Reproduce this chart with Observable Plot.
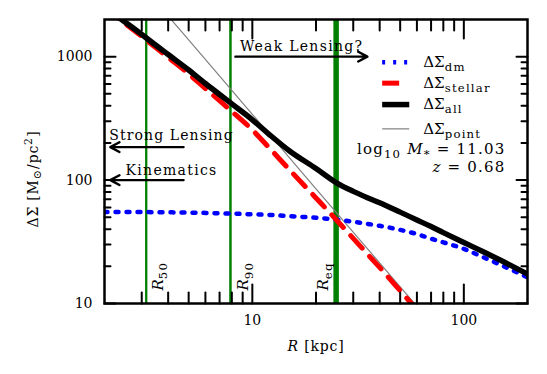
<!DOCTYPE html>
<html><head><meta charset="utf-8">
<script src="https://cdn.jsdelivr.net/npm/d3@7"></script>
<script src="https://cdn.jsdelivr.net/npm/@observablehq/plot@0.6"></script>
<style>body{margin:0;background:#fff} svg{display:block}</style>
</head><body>
<script>
// ---- data ----
const radius = [2, 2.4, 3, 3.2, 4, 5, 6, 7, 8, 10, 12, 15, 20, 25, 30, 35, 40, 50, 60, 70, 80, 100, 125, 150, 200];
const dmValues      = [55, 55, 55, 55, 54.8, 54.5, 54.2, 53.8, 53.5, 52.8, 52.2, 51, 49.5, 47.8, 46, 44.2, 42.6, 39.5, 36.5, 33.5, 31.3, 27.7, 23.5, 20.5, 16.3];
const stellarValues = [2470, 1955, 1460, 1335, 985, 725, 552, 440, 360, 255, 183, 121, 71.6, 47.5, 33.7, 25.2, 19.6, 12.7, 8.9, 6.6, 5.1, 3.3, 2.1, 1.5, 0.84];
const allValues     = [2525, 2010, 1515, 1390, 1040, 780, 606, 494, 414, 308, 235, 172, 124, 95, 81, 72, 65.5, 55, 47.5, 42, 37.5, 31.2, 26, 22.3, 17.3];
const pointRadius = [3, 5, 10, 20, 40, 60, 80];
const pointValues = [3790, 1365, 341, 85, 21.3, 9.5, 5.3];

const radiusNames  = ["$R$_{50}", "$R$_{90}", "$R$_{eq}"];
const radiusValues = [3.15, 7.88, 24.9];

const arrowLabels = ["Weak Lensing?", "Strong Lensing", "Kinematics"];
const arrowFrom   = [8.32, 4.73, 4.73];
const arrowTo     = [35.0, 2.13, 2.13];
const arrowLevel  = [1000, 185, 100];
const arrowTextAt = [17.1, 4.15, 4.15];

const legendNames = ["ΔΣ_{dm}", "ΔΣ_{stellar}", "ΔΣ_{all}", "ΔΣ_{point}"];
const massText = "log_{10} $M$_{*} = 11.03";
const zText = "$z$ = 0.68";
const xLabel = "$R$ [kpc]";
const yLabel = "ΔΣ [M_{⊙}/pc^{2}]";

const xMajorTicks = [10, 100];
const xMinorTicks = [3, 4, 5, 6, 7, 8, 9, 20, 30, 40, 50, 60, 70, 80, 90];
const yMajorTicks = [10, 100, 1000];
const yMinorTicks = [20, 30, 40, 50, 60, 70, 80, 90, 200, 300, 400, 500, 600, 700, 800, 900];

// ---- layout / styles ----
const styles = [
  {stroke: "#0000ff", strokeWidth: 4.5, strokeDasharray: "3,8"},
  {stroke: "#ff0000", strokeWidth: 5, strokeDasharray: "17,11"},
  {stroke: "#000000", strokeWidth: 5.5},
  {stroke: "#808080", strokeWidth: 1.2}
];
const legendLayout = {x1: 41.1, x2: 55.2, textX: 64.3, y: [902, 610, 409, 260]};
const infoLayout = {x: 157.4, yMass: 164, yZ: 115.8};
const radiusLabelDx = [17, 18, -8];
const radiusLineWidth = [2.3, 2.5, 5.5];
const arrowTextDy = [-6, -7, -5];
const letterSpacing = new Map([
  ["Weak Lensing?", 1.3], ["Strong Lensing", 1.1], ["Kinematics", 1.3],
  [massText, 1.2], [zText, 1.2], [xLabel, 0.8], [yLabel, 0.8]
]);

const seriesValues = [dmValues, stellarValues, allValues];
const curveRows = seriesValues.map(vals => radius.map((r, i) => ({r, v: vals[i]})));
curveRows.push(pointRadius.map((r, i) => ({r, v: pointValues[i]})));

const marks = [];
radiusValues.forEach((rv, i) => {
  marks.push(Plot.ruleX([rv], {x: d => d, stroke: "#008000", strokeWidth: radiusLineWidth[i]}));
});
[3, 0, 1, 2].forEach(k => {
  marks.push(Plot.line(curveRows[k], {x: "r", y: "v", clip: true, curve: "monotone-x", ...styles[k]}));
});
marks.push(Plot.arrow(arrowLabels, {
  x1: (d, i) => arrowFrom[i], x2: (d, i) => arrowTo[i],
  y1: (d, i) => arrowLevel[i], y2: (d, i) => arrowLevel[i],
  stroke: "black", strokeWidth: 2.4, headLength: 6.5, headAngle: 56
}));
arrowLabels.forEach((lab, i) => {
  marks.push(Plot.text([lab], {x: arrowTextAt[i], y: arrowLevel[i], text: d => d,
    lineAnchor: "bottom", dy: arrowTextDy[i], fontSize: 14}));
});
radiusNames.forEach((nm, i) => {
  marks.push(Plot.text([nm], {x: radiusValues[i], y: 10, text: d => d, rotate: -90,
    textAnchor: "start", lineAnchor: "bottom", dx: radiusLabelDx[i], dy: -13, fontSize: 15}));
});
legendNames.forEach((nm, i) => {
  const yv = legendLayout.y[i];
  marks.push(Plot.link([nm], {x1: legendLayout.x1, x2: legendLayout.x2, y1: yv, y2: yv, ...styles[i]}));
  marks.push(Plot.text([nm], {x: legendLayout.textX, y: yv, text: d => d, textAnchor: "start",
    lineAnchor: "middle", fontSize: 15}));
});
marks.push(Plot.text([massText], {x: infoLayout.x, y: infoLayout.yMass, text: d => d, textAnchor: "end", lineAnchor: "bottom", fontSize: 15}));
marks.push(Plot.text([zText], {x: infoLayout.x, y: infoLayout.yZ, text: d => d, textAnchor: "end", lineAnchor: "bottom", fontSize: 15}));

// inward ticks on all four sides (vectors placed through the scales)
const tickShape = {draw(context, l) { context.moveTo(0, 0); context.lineTo(0, -l); }};
const tickOpts = {anchor: "start", shape: tickShape, stroke: "black", strokeWidth: 2};
const xDomain = [2, 200], yDomain = [10, 2000];
for (const [ticks, len] of [[xMajorTicks, 19], [xMinorTicks, 11]]) {
  marks.push(Plot.vector(ticks, {x: d => d, y: yDomain[0], length: len, rotate: 0, ...tickOpts}));
  marks.push(Plot.vector(ticks, {x: d => d, y: yDomain[1], length: len, rotate: 180, ...tickOpts}));
}
for (const [ticks, len] of [[yMajorTicks, 11], [yMinorTicks, 6]]) {
  marks.push(Plot.vector(ticks, {y: d => d, x: xDomain[0], length: len, rotate: 90, ...tickOpts}));
  marks.push(Plot.vector(ticks, {y: d => d, x: xDomain[1], length: len, rotate: -90, ...tickOpts}));
}
marks.push(Plot.axisX({anchor: "bottom", ticks: xMajorTicks, tickSize: 0, tickPadding: 12, tickFormat: d => String(d), label: null}));
marks.push(Plot.axisY({anchor: "left", ticks: yMajorTicks, tickSize: 0, tickPadding: 12, tickFormat: d => String(d), label: null}));
marks.push(Plot.text([xLabel], {frameAnchor: "bottom", text: d => d, lineAnchor: "bottom", dy: 47, fontSize: 14}));
marks.push(Plot.text([yLabel], {frameAnchor: "left", text: d => d, rotate: -90, textAnchor: "start", lineAnchor: "bottom", dx: -67, dy: 66, fontSize: 14}));
marks.push(Plot.frame({stroke: "black", strokeWidth: 2.5}));

const plot = Plot.plot({
  width: 547, height: 374,
  marginLeft: 104, marginRight: 20, marginTop: 19, marginBottom: 71,
  x: {type: "log", domain: xDomain},
  y: {type: "log", domain: yDomain},
  style: {fontFamily: "DejaVu Serif", fontSize: "14px", background: "white", color: "black"},
  marks
});
document.body.append(plot);

// ---- rich text: $italic$, _{sub}, ^{sup}; plus letter spacing ----
function parseRich(s) {
  const segs = []; let italic = false, buf = "", i = 0;
  const flush = () => { if (buf) segs.push({text: buf, shift: 0, italic}); buf = ""; };
  while (i < s.length) {
    const c = s[i];
    if (c === "$") { flush(); italic = !italic; i++; }
    else if ((c === "_" || c === "^") && s[i + 1] === "{") {
      flush();
      const j = s.indexOf("}", i);
      segs.push({text: s.slice(i + 2, j), shift: c === "_" ? 1 : -1, italic: false});
      i = j + 1;
    } else { buf += c; i++; }
  }
  flush();
  return segs;
}
plot.querySelectorAll("text").forEach(t => {
  const s = t.textContent;
  if (letterSpacing.has(s)) t.setAttribute("letter-spacing", letterSpacing.get(s));
  if (!/[_^]\{|\$/.test(s)) return;
  const fs = parseFloat(getComputedStyle(t).fontSize) || 14;
  const segs = parseRich(s);
  t.textContent = "";
  let cur = 0;
  for (const seg of segs) {
    const ts = document.createElementNS("http://www.w3.org/2000/svg", "tspan");
    const target = seg.shift === 1 ? 0.27 * fs : seg.shift === -1 ? -0.42 * fs : 0;
    if (target !== cur) { ts.setAttribute("dy", String(target - cur)); cur = target; }
    if (seg.shift) { ts.setAttribute("font-size", (fs * 0.78).toFixed(2) + "px"); ts.setAttribute("letter-spacing", "1.2"); }
    if (seg.italic) ts.setAttribute("font-style", "italic");
    ts.textContent = seg.text;
    t.appendChild(ts);
  }
});
</script>
</body></html>
